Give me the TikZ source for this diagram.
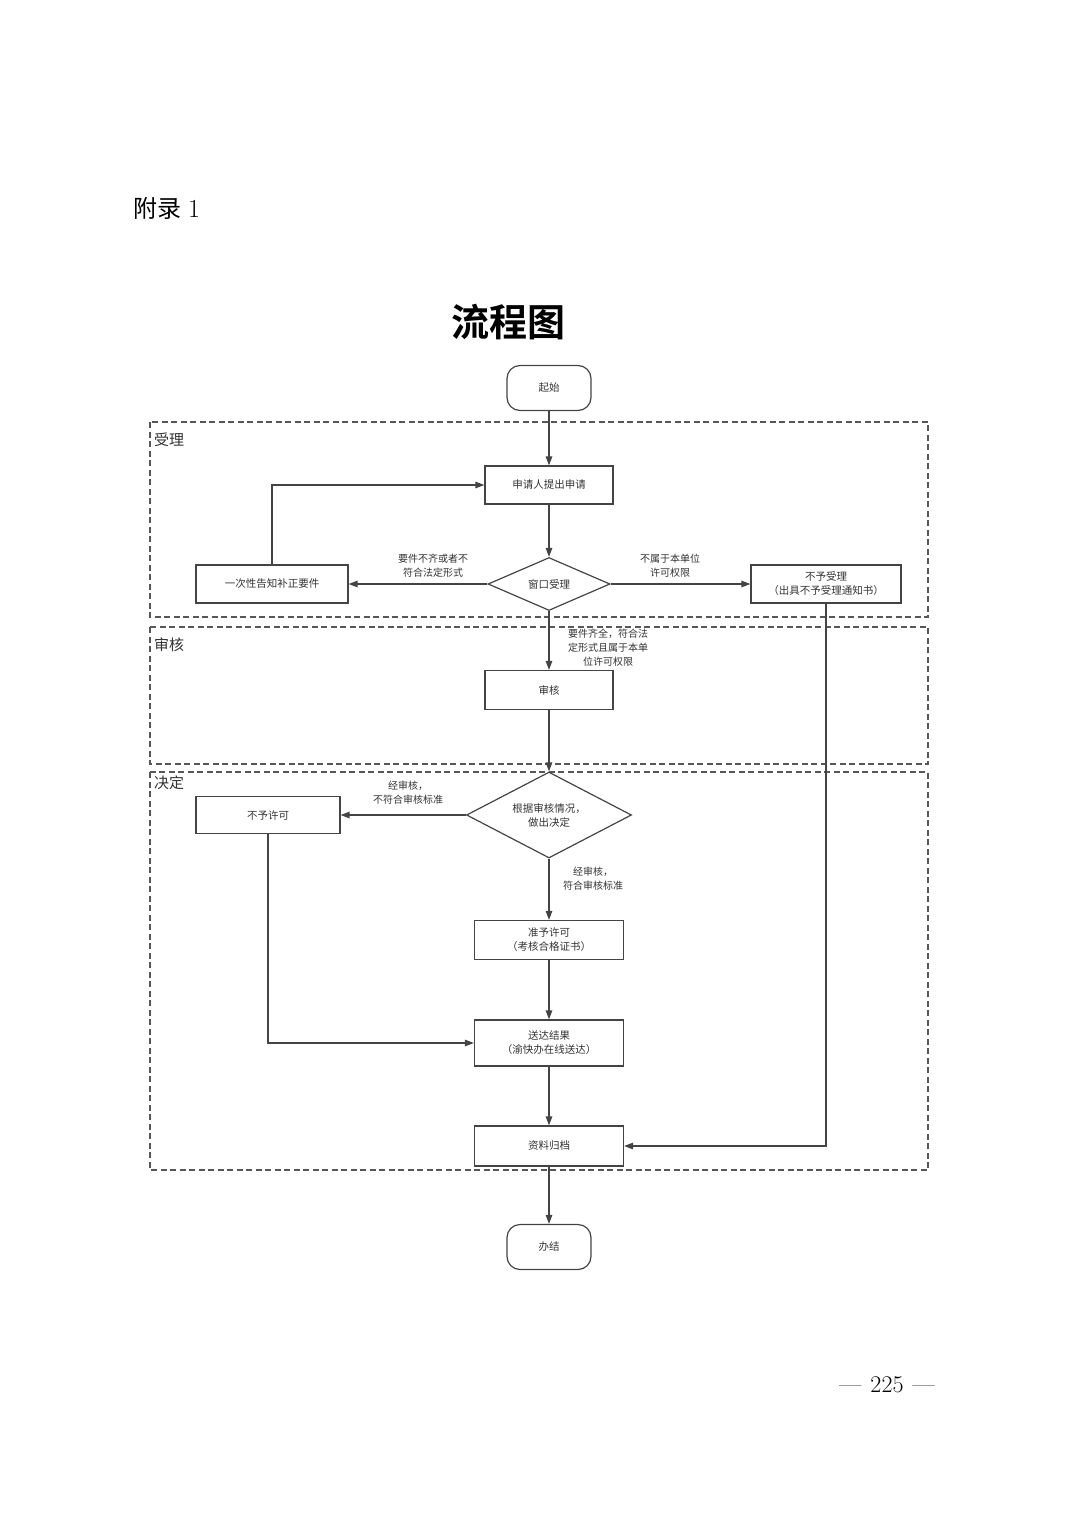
\documentclass[tikz,border=0pt]{standalone}
\usepackage{fontspec}
\newfontfamily\cjk{Noto Sans CJK SC}
\newfontfamily\cjkb{Noto Sans CJK SC Bold}
\usetikzlibrary{arrows.meta,shapes.geometric}
\definecolor{ln}{HTML}{444444}
\definecolor{tx}{HTML}{333333}
\tikzset{
  box/.style={draw=ln,line width=1.2pt,rectangle,inner sep=0pt,font=\cjk\fontsize{10.5}{14}\selectfont,text=tx,align=center},
  term/.style={box,rounded corners=13pt,minimum width=84pt,minimum height=45pt},
  dia/.style={draw=ln,line width=1.2pt,diamond,aspect=1.9,inner sep=0pt,font=\cjk\fontsize{10.5}{14}\selectfont,text=tx,align=center},
  lane/.style={draw=ln!90,line width=1.3pt,dash pattern=on 6pt off 3.5pt},
  lanelabel/.style={anchor=west,inner sep=0pt,font=\cjk\fontsize{15}{16}\selectfont,text=tx},
  elabel/.style={inner sep=0pt,font=\cjk\fontsize{10}{14}\selectfont,text=tx,align=center},
  conn/.style={draw=ln,line width=1.3pt,-{Triangle[length=9pt,width=6.5pt]}}
}
\begin{document}
\begin{tikzpicture}[x=1pt,y=-1pt]
\useasboundingbox (0,0) rectangle (1074,1520);
% headings
\node[anchor=west,inner sep=0pt] (hd) at (133,208) {{\cjk\fontsize{24}{24}\selectfont 附录}\hspace{7pt}{\fontsize{26}{26}\selectfont 1}};
\node[inner sep=0pt] (title) at (508,322) {\cjkb\fontsize{38}{38}\selectfont 流程图};
\node[inner sep=0pt] (pg) at (887,1385) {\fontsize{24}{24}\selectfont —\hspace{9pt}225\hspace{9pt}—};
% lanes
\draw[lane] (150,422) rectangle (928,617);
\draw[lane] (150,627) rectangle (928,764);
\draw[lane] (150,772) rectangle (928,1170);
\node[lanelabel] (l1) at (154,440) {受理};
\node[lanelabel] (l2) at (154,645) {审核};
\node[lanelabel] (l3) at (154,783) {决定};
% nodes
\node[term] (start) at (549,388) {起始};
\node[box,minimum width=128pt,minimum height=38pt] (apply) at (549,485) {申请人提出申请};
\node[dia,minimum width=122pt,minimum height=53pt] (window) at (549,584) {窗口受理};
\node[box,minimum width=152pt,minimum height=38pt] (notify) at (272,584) {一次性告知补正要件};
\node[box,minimum width=150pt,minimum height=38pt] (reject) at (826,584) {不予受理\\（出具不予受理通知书）};
\node[box,minimum width=128pt,minimum height=39pt] (review) at (549,690) {审核};
\node[dia,minimum width=165pt,minimum height=86pt] (decide) at (549,815) {根据审核情况，\\做出决定};
\node[box,minimum width=144pt,minimum height=37pt] (deny) at (268,815) {不予许可};
\node[box,minimum width=149pt,minimum height=39pt] (grant) at (549,940) {准予许可\\（考核合格证书）};
\node[box,minimum width=149pt,minimum height=46pt] (deliver) at (549,1043) {送达结果\\（渝快办在线送达）};
\node[box,minimum width=149pt,minimum height=40pt] (archive) at (549,1146) {资料归档};
\node[term] (end) at (549,1247) {办结};
% edge labels
\node[elabel] (e1) at (433,566) {要件不齐或者不\\符合法定形式};
\node[elabel] (e2) at (670,566) {不属于本单位\\许可权限};
\node[elabel] (e3) at (608,648) {要件齐全，符合法\\定形式且属于本单\\位许可权限};
\node[elabel] (e4) at (408,793) {经审核，\\不符合审核标准};
\node[elabel] (e5) at (593,879) {经审核，\\符合审核标准};
% connectors
\draw[conn] (start) -- (apply);
\draw[conn] (apply) -- (window);
\draw[conn] (window.west) -- (notify.east);
\draw[conn] (notify.north) |- (apply.west);
\draw[conn] (window.east) -- (reject.west);
\draw[conn] (window.south) -- (review.north);
\draw[conn] (reject.south) |- (archive.east);
\draw[conn] (review.south) -- (decide.north);
\draw[conn] (decide.west) -- (deny.east);
\draw[conn] (deny.south) |- (deliver.west);
\draw[conn] (decide.south) -- (grant.north);
\draw[conn] (grant) -- (deliver);
\draw[conn] (deliver) -- (archive);
\draw[conn] (archive) -- (end);
\end{tikzpicture}
\end{document}
